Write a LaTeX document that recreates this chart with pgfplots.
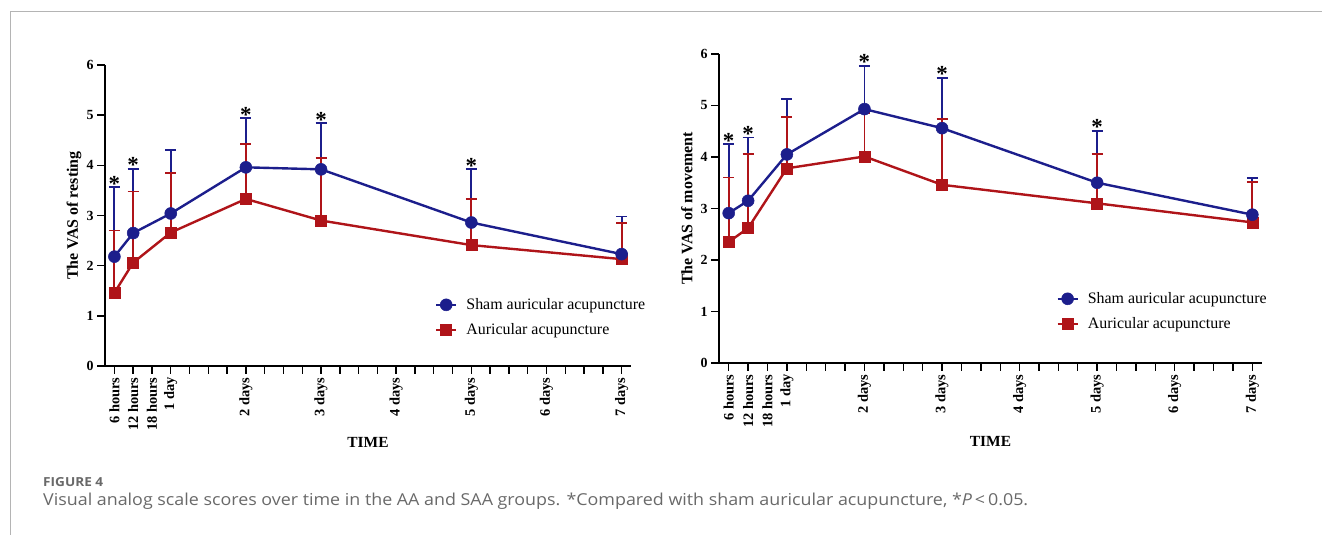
\documentclass[border=0pt]{standalone}
\usepackage{pgfplots}
\pgfplotsset{compat=1.18}
\usepackage{pgfplotstable}
\usepackage{fontspec}
\setmainfont{Liberation Serif}
\newfontfamily\capfont{Open Sans}
\definecolor{navy}{RGB}{28,30,140}
\definecolor{dred}{RGB}{175,20,25}
\definecolor{capgray}{RGB}{105,105,105}
\definecolor{framegray}{RGB}{180,180,180}

% hours, mean, upper SD
\pgfplotstableread{
x y e
6 2.18 1.38
12 2.65 1.28
24 3.04 1.27
48 3.96 0.98
72 3.92 0.92
120 2.86 1.06
168 2.23 0.75
}\restSham
\pgfplotstableread{
x y e
6 1.46 1.24
12 2.06 1.42
24 2.66 1.19
48 3.33 1.09
72 2.90 1.24
120 2.41 0.92
168 2.13 0.72
}\restAA
\pgfplotstableread{
x y e
6 2.91 1.34
12 3.15 1.23
24 4.05 1.08
48 4.93 0.84
72 4.56 0.98
120 3.50 1.01
168 2.88 0.71
}\movSham
\pgfplotstableread{
x y e
6 2.35 1.25
12 2.62 1.44
24 3.78 0.99
48 4.01 0.85
72 3.46 1.27
120 3.10 0.96
168 2.73 0.79
}\movAA

\tikzset{vstar/.style={anchor=base, yshift=-4bp, font=\fontsize{23}{23}\selectfont\bfseries, inner sep=0pt}}
\pgfplotsset{
  vas/.style={
    scale only axis, clip=false,
    xmin=3, xmax=171, ymin=0, ymax=6,
    axis x line*=bottom, axis y line*=left,
    axis line style={line width=1.6bp, -},
    tick style={line width=1.4bp, black},
    major tick length=8bp, minor tick length=8bp, tick align=outside,
    xtick={6,12,18,24,48,72,96,120,144,168},
    xticklabels={6 hours,12 hours,18 hours,1 day,2 days,3 days,4 days,5 days,6 days,7 days},
    minor xtick={30,36,42,54,60,66,78,84,90,102,108,114,126,132,138,150,156,162},
    ytick={0,1,2,3,4,5,6},
    /pgf/number format/assume math mode=true,
    x tick label style={rotate=90, anchor=east, font=\fontsize{14.5}{14}\selectfont\bfseries},
    y tick label style={font=\fontsize{14}{14}\selectfont\bfseries},
    ylabel style={font=\fontsize{16}{16}\selectfont\bfseries, at={(axis description cs:-0.059,0.5)}, anchor=center, rotate=0},
    xlabel style={font=\fontsize{15.5}{16}\selectfont\bfseries, at={(axis description cs:0.5,0)}, anchor=center},
    xlabel={TIME},
    legend style={draw=none, fill=none, font=\fontsize{16}{16}\selectfont, inner sep=0pt,
      row sep=10.5bp, nodes={inner sep=1bp}},
    legend cell align=left,
    reverse legend,
    legend image code/.code={\draw[mark repeat=2,mark phase=2] plot coordinates {(0bp,0bp) (10bp,0bp) (20bp,0bp)};},
    error bars/y dir=plus, error bars/y explicit,
  },
  shamerr/.style={draw=none, mark=none, forget plot,
    error bars/error mark=|,
    error bars/error bar style={navy, line width=1.8bp},
    error bars/error mark options={navy, line width=1.8bp, mark size=5.5bp}},
  aa/.style={dred, line width=2.4bp, mark=square*, mark size=5.5bp, mark options={solid, fill=dred, line width=0.5bp},
    error bars/error mark=|,
    error bars/error bar style={dred, line width=1.8bp},
    error bars/error mark options={dred, line width=1.8bp, mark size=5.5bp}},
  sham/.style={navy, line width=2.4bp, mark=*, mark size=6bp, mark options={solid, fill=navy, line width=0.5bp}},
}

\begin{document}
\begin{tikzpicture}[x=1bp,y=1bp]
\path[use as bounding box] (0,0) rectangle (1322,535);
\draw[framegray, line width=1bp] (10,0) -- (10,523) -- (1322,523);

\begin{axis}[vas, at={(105bp,169bp)}, anchor=south west, width=526bp, height=301bp,
  ylabel={The VAS of resting},
  xlabel style={yshift=-76bp},
  legend style={at={(axis description cs:0.627,0.228)}, anchor=north west}]
\addplot[shamerr] table[x=x, y=y, y error=e] {\restSham};
\addplot[aa] table[x=x, y=y, y error=e] {\restAA};
\addlegendentry{\hspace*{8bp}Auricular acupuncture}
\addplot[sham] table[x=x, y=y] {\restSham};
\addlegendentry{\hspace*{8bp}Sham auricular acupuncture}
\node[vstar] at (axis cs:6,3.56) {*};
\node[vstar] at (axis cs:12,3.93) {*};
\node[vstar] at (axis cs:48,4.94) {*};
\node[vstar] at (axis cs:72,4.84) {*};
\node[vstar] at (axis cs:120,3.92) {*};
\end{axis}

\begin{axis}[vas, at={(719bp,172bp)}, anchor=south west, width=543bp, height=309bp,
  ylabel={The VAS of movement},
  xlabel style={yshift=-78bp},
  legend style={at={(axis description cs:0.621,0.232)}, anchor=north west}]
\addplot[shamerr] table[x=x, y=y, y error=e] {\movSham};
\addplot[aa] table[x=x, y=y, y error=e] {\movAA};
\addlegendentry{\hspace*{8bp}Auricular acupuncture}
\addplot[sham] table[x=x, y=y] {\movSham};
\addlegendentry{\hspace*{8bp}Sham auricular acupuncture}
\node[vstar] at (axis cs:6,4.25) {*};
\node[vstar] at (axis cs:12,4.38) {*};
\node[vstar] at (axis cs:48,5.77) {*};
\node[vstar] at (axis cs:72,5.54) {*};
\node[vstar] at (axis cs:120,4.51) {*};
\end{axis}

\node[anchor=base west, inner sep=0pt, text=capgray, font=\capfont\bfseries\fontsize{12.5}{12}\selectfont] at (43,48) {\resizebox{60bp}{\height}{FIGURE 4}};
\node[anchor=base west, inner sep=0pt, text=capgray, font=\capfont\fontsize{16.5}{16}\selectfont] at (43,29) {\resizebox{985bp}{\height}{Visual analog scale scores over time in the AA and SAA groups. *Compared with sham auricular acupuncture, *\textit{P}\,<\,0.05.}};
\end{tikzpicture}
\end{document}
